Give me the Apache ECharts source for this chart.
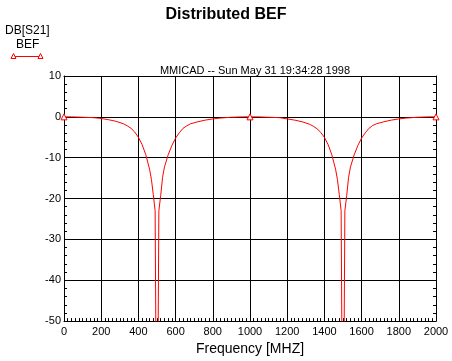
<!DOCTYPE html>
<html><head><meta charset="utf-8">
<script src="https://cdn.jsdelivr.net/npm/echarts@6/dist/echarts.min.js"></script>
<style>html,body{margin:0;padding:0;background:#fff}#c{width:452px;height:361px}</style>
</head><body><div id="c"></div>
<script>
const titleText = 'Distributed BEF';
const subtitleText = 'MMICAD -- Sun May 31 19:34:28 1998';
const yAxisName = 'DB[S21]';
const seriesName = 'BEF';
const xAxisName = 'Frequency [MHZ]';
const xTicks = [0, 200, 400, 600, 800, 1000, 1200, 1400, 1600, 1800, 2000];
const yTicks = [-50, -40, -30, -20, -10, 0, 10];
const markerFreqs = [0, 1000, 2000];
const freqs = [0, 40, 100, 160, 200, 240, 280, 320, 340, 360, 380, 400, 420, 440, 460, 470, 480, 490, 500, 510, 520, 530, 540, 560, 580, 600, 620, 640, 660, 680, 720, 760, 800, 840, 900, 960,
  1000, 1040, 1100, 1160, 1200, 1240, 1280, 1320, 1340, 1360, 1380, 1400, 1420, 1440, 1460, 1470, 1480, 1490, 1500, 1510, 1520, 1530, 1540, 1560, 1580, 1600, 1620, 1640, 1660, 1680, 1720, 1760, 1800, 1840, 1900, 1960, 2000];
const s21 = [0, 0, -0.1, -0.2, -0.4, -0.7, -1.1, -1.7, -2.2, -2.8, -3.7, -5.0, -6.8, -9.3, -12.8, -15.3, -19.0, -23.0, -100, -23.0, -19.2, -14.8, -12.3, -9.3, -7.0, -5.2, -3.9, -2.8, -2.2, -1.7, -1.2, -0.8, -0.5, -0.3, -0.1, 0,
  0, 0, -0.1, -0.2, -0.5, -0.8, -1.2, -1.8, -2.3, -2.9, -3.8, -5.0, -6.8, -9.3, -12.8, -15.3, -19.0, -23.0, -100, -23.0, -19.2, -14.8, -12.3, -9.3, -7.0, -5.2, -3.9, -2.8, -2.1, -1.7, -1.2, -0.8, -0.5, -0.3, -0.1, 0, 0];

const RED = '#ff0000';
const FONT = '"Liberation Sans", Arial, sans-serif';
const data = freqs.map((f, i) => [f, s21[i]]);

const chart = echarts.init(document.getElementById('c'), null, {renderer: 'canvas'});
const axisLineStyle = {show: true, onZero: false, lineStyle: {color: '#000', width: 1}};
chart.setOption({
  backgroundColor: '#fff',
  animation: false,
  title: [
    {text: titleText, left: 'center', top: 2, textStyle: {fontFamily: FONT, fontSize: 16, fontWeight: 'bold', color: '#000'}},
    {text: subtitleText, left: 250, textAlign: 'center', top: 60, textStyle: {fontFamily: FONT, fontSize: 11, fontWeight: 'normal', color: '#000'}}
  ],
  grid: {left: 64, top: 76, width: 372, height: 250, containLabel: false, show: false},
  xAxis: [
    {
      type: 'value', min: xTicks[0], max: xTicks[xTicks.length - 1], interval: xTicks[1] - xTicks[0], position: 'bottom',
      axisLine: axisLineStyle,
      name: xAxisName, nameLocation: 'middle', nameGap: 20,
      nameTextStyle: {fontFamily: FONT, fontSize: 14, color: '#000'},
      axisTick: {show: false, inside: true},
      minorTick: {show: true, splitNumber: 10, length: 3, lineStyle: {color: '#000', width: 1}},
      axisLabel: {fontFamily: FONT, fontSize: 11, color: '#000', margin: 5, formatter: v => String(v)},
      splitLine: {show: true, lineStyle: {color: '#000', width: 1}}
    },
    {
      type: 'value', min: xTicks[0], max: xTicks[xTicks.length - 1], interval: xTicks[1] - xTicks[0], position: 'top',
      axisLine: axisLineStyle,
      axisTick: {show: false}, axisLabel: {show: false}, splitLine: {show: false}
    }
  ],
  yAxis: [
    {
      type: 'value', min: yTicks[0], max: yTicks[yTicks.length - 1], interval: yTicks[1] - yTicks[0], position: 'left',
      axisLine: axisLineStyle,
      axisTick: {show: false, inside: true},
      minorTick: {show: true, splitNumber: 5, length: 3, lineStyle: {color: '#000', width: 1}},
      axisLabel: {fontFamily: FONT, fontSize: 11, color: '#000', margin: 3, formatter: v => String(v)},
      splitLine: {show: true, lineStyle: {color: '#000', width: 1}}
    },
    {
      type: 'value', min: yTicks[0], max: yTicks[yTicks.length - 1], interval: yTicks[1] - yTicks[0], position: 'right',
      axisLine: axisLineStyle,
      axisTick: {show: false, inside: true},
      minorTick: {show: true, splitNumber: 5, length: 3, lineStyle: {color: '#000', width: 1}},
      axisLabel: {show: false}, splitLine: {show: false}
    }
  ],
  series: [{
    name: seriesName,
    type: 'line',
    data: data,
    clip: true,
    showSymbol: true,
    showAllSymbol: true,
    symbol: function (v) { return markerFreqs.indexOf(v[0]) >= 0 ? 'triangle' : 'none'; },
    symbolSize: 6,
    lineStyle: {color: RED, width: 1},
    itemStyle: {color: '#fff', borderColor: RED, borderWidth: 1},
    emphasis: {disabled: true}
  }],
  graphic: [
    {type: 'text', left: 5, top: 25, style: {text: yAxisName, font: '12px ' + FONT, fill: '#000'}},
    {type: 'text', left: 16, top: 39, style: {text: seriesName, font: '12px ' + FONT, fill: '#000'}},
    {type: 'line', shape: {x1: 13.5, y1: 56.5, x2: 40.5, y2: 56.5}, style: {stroke: RED, lineWidth: 1}},
    {type: 'polygon', shape: {points: [[13.5, 53.5], [11, 58.5], [16, 58.5]]}, style: {stroke: RED, fill: '#fff', lineWidth: 1}},
    {type: 'polygon', shape: {points: [[40.5, 53.5], [38, 58.5], [43, 58.5]]}, style: {stroke: RED, fill: '#fff', lineWidth: 1}}
  ]
});
</script></body></html>
